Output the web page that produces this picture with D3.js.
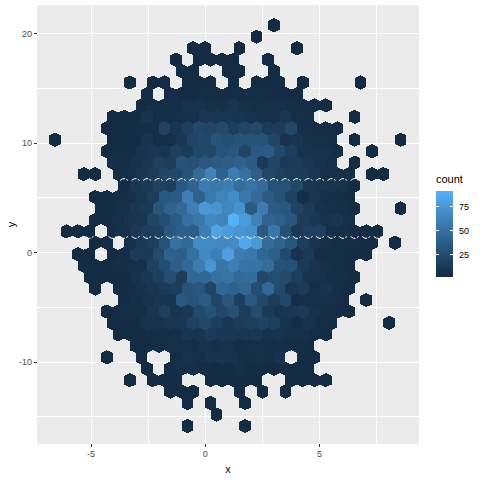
<!DOCTYPE html>
<html>
<head>
<meta charset="utf-8">
<script src="https://cdn.jsdelivr.net/npm/d3@7"></script>
<style>
  html, body { margin: 0; padding: 0; background: #ffffff; }
  svg { display: block; }
</style>
</head>
<body>
<div id="chart"></div>
<script>
// hex grid, rows top to bottom, one [first column, counts] per row
// a 0 is an empty cell inside a row
const hexRows = [
  [19, [1]],
  [17, [1]],
  [12, [1, 1, 0, 0, 1, 0, 0, 0, 0, 1]],
  [10, [1, 0, 1, 1, 1, 1, 0, 0, 1]],
  [11, [1, 1, 0, 0, 1, 1, 0, 0, 1]],
  [6, [1, 0, 1, 1, 0, 1, 1, 1, 0, 1, 0, 1, 1, 1, 0, 1, 0, 0, 0, 0, 1]],
  [8, [2, 0, 2, 1, 2, 3, 3, 2, 3, 3, 3, 2, 2, 1]],
  [7, [1, 3, 3, 3, 6, 6, 5, 5, 8, 5, 4, 4, 4, 3, 3, 2, 1]],
  [5, [1, 1, 2, 7, 3, 3, 4, 5, 10, 10, 9, 8, 6, 5, 5, 9, 4, 3, 0, 0, 0, 1]],
  [4, [1, 1, 2, 2, 3, 18, 9, 16, 22, 20, 24, 15, 20, 22, 13, 14, 22, 4, 3, 3, 2]],
  [0, [1, 0, 0, 0, 0, 1, 2, 2, 7, 3, 4, 11, 20, 23, 30, 27, 30, 30, 30, 20, 6, 8, 4, 4, 3, 0, 1, 0, 0, 0, 1]],
  [4, [1, 2, 2, 7, 10, 9, 17, 13, 22, 22, 30, 32, 20, 34, 36, 24, 15, 7, 6, 6, 3, 0, 0, 1]],
  [5, [3, 3, 6, 9, 17, 14, 30, 28, 33, 35, 37, 40, 36, 12, 20, 12, 13, 10, 6, 5, 0, 1]],
  [2, [1, 1, 0, 3, 4, 9, 14, 20, 22, 30, 46, 62, 40, 58, 50, 38, 22, 18, 14, 13, 10, 5, 5, 3, 0, 1, 1]],
  [6, [2, 10, 12, 18, 16, 34, 42, 58, 55, 60, 48, 52, 46, 28, 28, 22, 10, 8, 8, 6, 1]],
  [3, [1, 2, 3, 4, 9, 14, 34, 36, 60, 40, 56, 62, 68, 55, 46, 35, 30, 18, 4, 9, 4, 3, 2]],
  [4, [2, 2, 5, 10, 12, 32, 40, 45, 60, 76, 74, 65, 72, 35, 58, 36, 32, 18, 13, 6, 5, 4, 2, 0, 0, 0, 1]],
  [3, [2, 2, 4, 8, 9, 20, 26, 36, 50, 55, 66, 62, 91, 78, 62, 42, 38, 32, 14, 11, 6, 9, 4]],
  [1, [1, 1, 1, 0, 3, 5, 12, 15, 18, 34, 38, 38, 58, 82, 78, 74, 72, 34, 55, 28, 12, 17, 17, 4, 4, 2, 1, 1]],
  [3, [1, 2, 0, 4, 12, 16, 30, 50, 46, 68, 68, 66, 68, 85, 76, 48, 42, 32, 15, 8, 5, 3, 3, 2, 1, 0, 1]],
  [2, [1, 1, 0, 1, 3, 13, 12, 24, 40, 38, 50, 66, 60, 80, 58, 56, 44, 38, 24, 6, 12, 3, 3, 2, 2, 1]],
  [2, [1, 2, 2, 3, 4, 5, 18, 26, 38, 44, 58, 74, 54, 60, 52, 52, 48, 30, 28, 12, 8, 5, 3, 2]],
  [3, [1, 2, 2, 2, 6, 10, 16, 26, 14, 44, 44, 50, 52, 46, 48, 22, 26, 24, 15, 7, 6, 3, 3, 1]],
  [3, [1, 0, 2, 2, 6, 10, 13, 16, 30, 32, 20, 44, 40, 44, 26, 44, 24, 9, 12, 4, 8, 4, 2]],
  [6, [2, 4, 6, 9, 8, 34, 30, 36, 20, 32, 16, 34, 22, 14, 22, 3, 5, 4, 4, 2, 0, 1]],
  [4, [1, 2, 3, 3, 9, 16, 7, 11, 23, 28, 22, 29, 14, 25, 12, 8, 10, 12, 6, 3, 2, 1]],
  [5, [1, 2, 2, 6, 6, 9, 10, 18, 22, 16, 11, 14, 16, 19, 16, 6, 3, 7, 3, 2, 0, 0, 0, 0, 1]],
  [5, [1, 1, 1, 3, 3, 4, 9, 8, 13, 11, 10, 9, 11, 6, 7, 5, 5, 3, 1]],
  [7, [1, 2, 3, 4, 4, 3, 7, 5, 6, 3, 4, 4, 3, 3, 3, 2]],
  [4, [1, 0, 0, 1, 0, 0, 3, 6, 4, 7, 7, 6, 3, 4, 3, 6, 0, 2, 1]],
  [8, [1, 0, 2, 4, 5, 2, 1, 1, 4, 1, 2, 1, 2, 1, 1]],
  [6, [1, 0, 1, 1, 2, 0, 0, 1, 1, 1, 1, 1, 0, 0, 1, 1, 1, 1]],
  [10, [1, 1, 1, 0, 0, 0, 1, 0, 1, 0, 1]],
  [11, [1, 0, 1, 0, 0, 1]],
  [14, [1]],
  [11, [1, 0, 0, 0, 0, 1]]
];

// grid origin and bin size in data units
const binOriginX = -6.58;
const binOriginY = 20.75;
const binWidth = 0.5043;
const binHeight = 1.0455;

const xTicks = [-5, 0, 5];
const yTicks = [-10, 0, 10, 20];
const xMinor = [-7.5, -2.5, 2.5, 7.5];
const yMinor = [-15, -5, 5, 15];
const legendTicks = [25, 50, 75];
const countDomain = [1, 91];

const width = 480;
const height = 480;

const svg = d3.select("#chart").append("svg")
  .attr("width", width)
  .attr("height", height)
  .style("font-family", "Liberation Sans, Arial, sans-serif");

const panel = { left: 37, right: 419, top: 5, bottom: 444 };

const x = d3.scaleLinear()
  .domain([0, 5])
  .range([205.3, 319.6]);

const y = d3.scaleLinear()
  .domain([0, 10])
  .range([252.5, 143]);

const color = d3.scaleLinear()
  .domain(countDomain)
  .range(["#132B43", "#56B1F7"])
  .interpolate(d3.interpolateLab);

// flatten the rows into one list of hex cells
const cells = [];
const occupied = new Set();
hexRows.forEach(([first, counts], r) => {
  counts.forEach((count, i) => {
    if (count > 0) {
      const col = first + i;
      occupied.add(`${r},${col}`);
      cells.push({
        row: r,
        col: col,
        x: binOriginX + (col + (r % 2 ? 0.5 : 0)) * binWidth,
        y: binOriginY - r * binHeight,
        count: count
      });
    }
  });
});

// panel background
svg.append("rect")
  .attr("x", panel.left)
  .attr("y", panel.top)
  .attr("width", panel.right - panel.left)
  .attr("height", panel.bottom - panel.top)
  .attr("fill", "#EBEBEB");

// grid lines
const grid = svg.append("g")
  .attr("shape-rendering", "crispEdges")
  .attr("stroke", "#ffffff")
  .attr("stroke-width", 1);

grid.append("g").selectAll("line")
  .data(xMinor.concat(xTicks))
  .join("line")
    .attr("x1", d => x(d)).attr("x2", d => x(d))
    .attr("y1", panel.top).attr("y2", panel.bottom);

grid.append("g").selectAll("line")
  .data(yMinor.concat(yTicks))
  .join("line")
    .attr("x1", panel.left).attr("x2", panel.right)
    .attr("y1", d => y(d)).attr("y2", d => y(d));

// hexagons, pointy side up. apex + shoulder = row step keeps them tiled
const halfW = (x(binWidth) - x(0)) / 2;
const rowStep = y(0) - y(binHeight);
const apex = 7.1;
const shoulder = rowStep - apex;
const hexPath = d => {
  const cx = x(d.x), cy = y(d.y);
  return `M${cx},${cy - apex}L${cx + halfW},${cy - shoulder}L${cx + halfW},${cy + shoulder}` +
    `L${cx},${cy + apex}L${cx - halfW},${cy + shoulder}L${cx - halfW},${cy - shoulder}Z`;
};

svg.append("g")
  .attr("shape-rendering", "crispEdges")
  .selectAll("path")
  .data(cells)
  .join("path")
    .attr("d", hexPath)
    .attr("fill", d => color(d.count));

// the two row boundaries where the hexagons do not quite meet:
// along the top of row 14 and the bottom of row 18
const seams = cells.filter(d =>
  (d.row === 14 && (occupied.has(`13,${d.col - 1}`) || occupied.has(`13,${d.col}`))) ||
  (d.row === 18 && (occupied.has(`19,${d.col - 1}`) || occupied.has(`19,${d.col}`))));

svg.append("g")
  .selectAll("path")
  .data(seams)
  .join("path")
    .attr("d", d => {
      const cx = x(d.x), cy = y(d.y);
      const s = d.row === 14 ? -1 : 1;
      const tip = cy + s * (apex - 0.2);
      return `M${cx - 4},${tip - s * 1.8}L${cx - 1.2},${tip}L${cx + 1.2},${tip}L${cx + 4},${tip - s * 1.8}`;
    })
    .attr("fill", "none")
    .attr("stroke", "#ffffff")
    .attr("stroke-width", 1)
    .attr("stroke-dasharray", "5.5 1.6 2.5");

// axes, tick marks only at the panel edge
const tickColor = "#333333";
const labelColor = "#4D4D4D";

svg.append("g")
  .attr("shape-rendering", "crispEdges")
  .selectAll("line")
  .data(xTicks)
  .join("line")
    .attr("x1", d => x(d)).attr("x2", d => x(d))
    .attr("y1", panel.bottom).attr("y2", panel.bottom + 3)
    .attr("stroke", tickColor);

svg.append("g").selectAll("text")
  .data(xTicks)
  .join("text")
    .attr("x", d => x(d))
    .attr("y", panel.bottom + 13)
    .attr("text-anchor", "middle")
    .style("font-size", "9px")
    .style("fill", labelColor)
    .text(d => d);

svg.append("g")
  .attr("shape-rendering", "crispEdges")
  .selectAll("line")
  .data(yTicks)
  .join("line")
    .attr("x1", panel.left - 3).attr("x2", panel.left)
    .attr("y1", d => y(d)).attr("y2", d => y(d))
    .attr("stroke", tickColor);

svg.append("g").selectAll("text")
  .data(yTicks)
  .join("text")
    .attr("x", panel.left - 5)
    .attr("y", d => y(d) + 3)
    .attr("text-anchor", "end")
    .style("font-size", "9px")
    .style("fill", labelColor)
    .text(d => d);

svg.append("text")
  .attr("x", (panel.left + panel.right) / 2)
  .attr("y", 473)
  .attr("text-anchor", "middle")
  .style("font-size", "11px")
  .style("fill", "#000000")
  .text("x");

svg.append("text")
  .attr("transform", `translate(15,${(panel.top + panel.bottom) / 2}) rotate(-90)`)
  .attr("text-anchor", "middle")
  .style("font-size", "11px")
  .style("fill", "#000000")
  .text("y");

// colour bar legend
const barLeft = 436;
const barWidth = 17;
const barTop = 191;
const barBottom = 277;

const legendY = d3.scaleLinear()
  .domain([25, 75])
  .range([254.7, 206.7]);

const gradient = svg.append("defs").append("linearGradient")
  .attr("id", "count-bar")
  .attr("x1", 0).attr("x2", 0)
  .attr("y1", 1).attr("y2", 0);

d3.range(0, 1.01, 0.1).forEach(t => {
  gradient.append("stop")
    .attr("offset", t)
    .attr("stop-color", color(countDomain[0] + t * (countDomain[1] - countDomain[0])));
});

svg.append("text")
  .attr("x", barLeft)
  .attr("y", 183)
  .style("font-size", "11px")
  .style("fill", "#000000")
  .text("count");

svg.append("rect")
  .attr("x", barLeft)
  .attr("y", barTop)
  .attr("width", barWidth)
  .attr("height", barBottom - barTop)
  .attr("fill", "url(#count-bar)");

const legendMarks = svg.append("g")
  .attr("shape-rendering", "crispEdges")
  .attr("stroke", "#ffffff");

legendMarks.append("g").selectAll("line")
  .data(legendTicks)
  .join("line")
    .attr("x1", barLeft).attr("x2", barLeft + 3.4)
    .attr("y1", d => legendY(d)).attr("y2", d => legendY(d));

legendMarks.append("g").selectAll("line")
  .data(legendTicks)
  .join("line")
    .attr("x1", barLeft + barWidth - 3.4).attr("x2", barLeft + barWidth)
    .attr("y1", d => legendY(d)).attr("y2", d => legendY(d));

svg.append("g").selectAll("text")
  .data(legendTicks)
  .join("text")
    .attr("x", barLeft + barWidth + 6)
    .attr("y", d => legendY(d) + 3)
    .style("font-size", "9px")
    .style("fill", "#000000")
    .text(d => d);
</script>
</body>
</html>
